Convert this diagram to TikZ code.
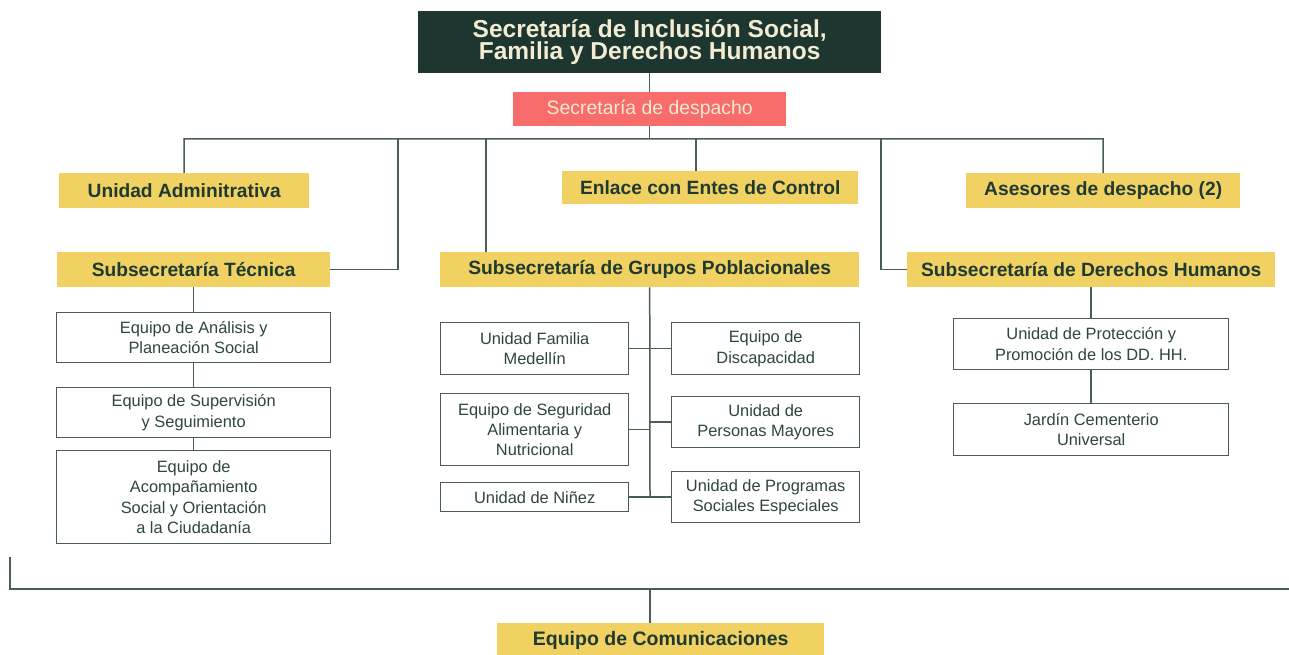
\documentclass[tikz,border=0pt]{standalone}
\usepackage{fontspec}
\setmainfont{Liberation Sans}
\definecolor{dkg}{HTML}{1E3630}
\definecolor{cream}{HTML}{F3ECD3}
\definecolor{ylw}{HTML}{F0D162}
\definecolor{salmon}{HTML}{F96C6C}
\definecolor{lnc}{HTML}{4A5C58}
\definecolor{txg}{HTML}{2F4540}
\definecolor{ytx}{HTML}{1F3A30}
\begin{document}
\begin{tikzpicture}[x=1pt,y=-1pt,
  ybox/.style={fill=ylw,draw=none,text=ytx,inner sep=0pt,anchor=north west,
    font=\bfseries\fontsize{19.2}{21}\selectfont},
  wbox/.style={draw=lnc,line width=1.4pt,fill=white,text=txg,inner sep=0pt,anchor=north west,
    align=center,font=\fontsize{16.4}{20.4}\selectfont},
  conn/.style={draw=lnc,line width=1.5pt}]
\useasboundingbox (0,0) rectangle (1289,655);
% top
\node[fill=dkg,text=cream,inner sep=0pt,anchor=north west,minimum width=463pt,minimum height=62pt,
  align=center,font=\bfseries\fontsize{24.5}{22.5}\selectfont] (title) at (418,11)
  {Secretaría de Inclusión Social,\\Familia y Derechos Humanos};
\node[fill=salmon,text=cream,inner sep=0pt,anchor=north west,minimum width=273pt,minimum height=34pt,
  font=\fontsize{19.4}{21}\selectfont] (desp) at (513,92) {Secretaría de despacho};
% second level
\node[ybox,minimum width=250pt,minimum height=35pt] (ua) at (59,173) {Unidad Adminitrativa};
\node[ybox,minimum width=296pt,minimum height=33pt] (enl) at (562,171) {Enlace con Entes de Control};
\node[ybox,minimum width=274pt,minimum height=35pt] (ase) at (966,173) {Asesores de despacho (2)};
\node[ybox,minimum width=273pt,minimum height=35pt] (st) at (57,252) {Subsecretaría Técnica};
\node[ybox,minimum width=419pt,minimum height=35pt] (sg) at (440,252) {Subsecretaría de Grupos Poblacionales};
\node[ybox,minimum width=368pt,minimum height=35pt] (sd) at (907,252) {Subsecretaría de Derechos Humanos};
% left column
\node[wbox,minimum width=274pt,minimum height=50pt] (a1) at (56,312) {Equipo de Análisis y\\Planeación Social};
\node[wbox,minimum width=274pt,minimum height=50pt] (a2) at (56,387) {Equipo de Supervisión\\y Seguimiento};
\node[wbox,minimum width=274pt,minimum height=93pt] (a3) at (56,450) {Equipo de\\Acompañamiento\\Social y Orientación\\a la Ciudadanía};
% middle
\node[wbox,minimum width=188pt,minimum height=52pt] (m1) at (440,322) {Unidad Familia\\Medellín};
\node[wbox,minimum width=188pt,minimum height=52pt] (m2) at (671,322) {Equipo de\\Discapacidad};
\node[wbox,minimum width=188pt,minimum height=72pt] (m3) at (440,393) {Equipo de Seguridad\\Alimentaria y\\Nutricional};
\node[wbox,minimum width=188pt,minimum height=51pt] (m4) at (671,396) {Unidad de\\Personas Mayores};
\node[wbox,minimum width=188pt,minimum height=29pt] (m5) at (440,482) {Unidad de Niñez};
\node[wbox,minimum width=188pt,minimum height=51pt] (m6) at (671,471) {Unidad de Programas\\Sociales Especiales};
% right
\node[wbox,minimum width=275pt,minimum height=51pt] (r1) at (953,318) {Unidad de Protección y\\Promoción de los DD. HH.};
\node[wbox,minimum width=275pt,minimum height=52pt] (r2) at (953,403) {Jardín Cementerio\\Universal};
% bottom
\node[ybox,minimum width=327pt,minimum height=35pt,font=\bfseries\fontsize{19.5}{21}\selectfont] (com) at (497,623) {Equipo de Comunicaciones};
% coordinates
\coordinate (busL) at (184,139);
\coordinate (busR) at (1103,139);
\coordinate (d2) at (398,139);
\coordinate (d3) at (486,139);
\coordinate (d4) at (696,139);
\coordinate (d5) at (881,139);
\coordinate (cend) at (650,497);
\coordinate (bl) at (10,557);
\coordinate (br) at (1289,589);
\coordinate (bm) at (650,589);
% connectors
\draw[conn] (title.south) -- (desp.north);
\draw[conn] (desp.south) -- (desp.south |- busL);
\draw[conn] (ua.north) -- (busL) -- (busR) -- (ase.north);
\draw[conn] (st.east) -| (d2);
\draw[conn] (d3) -- (d3 |- sg.north);
\draw[conn] (d4) -- (d4 |- enl.north);
\draw[conn] (sd.west) -| (d5);
\draw[conn] (st.south) -- (a1.north);
\draw[conn] (a1.south) -- (a2.north);
\draw[conn] (a2.south) -- (a3.north);
\draw[conn] (sg.south) -- (cend);
\draw[conn] (m1.east) -- (m2.west);
\draw[conn] (m3.east) -- (m3.east -| cend);
\draw[conn] (m4.west) -- (m4.west -| cend);
\draw[conn] (m5.east) -- (m6.west);
\draw[conn] (sd.south) -- (r1.north);
\draw[conn] (r1.south) -- (r2.north);
\draw[conn] (bl) |- (br);
\draw[conn] (bm) -- (bm |- com.north);
\end{tikzpicture}
\end{document}
